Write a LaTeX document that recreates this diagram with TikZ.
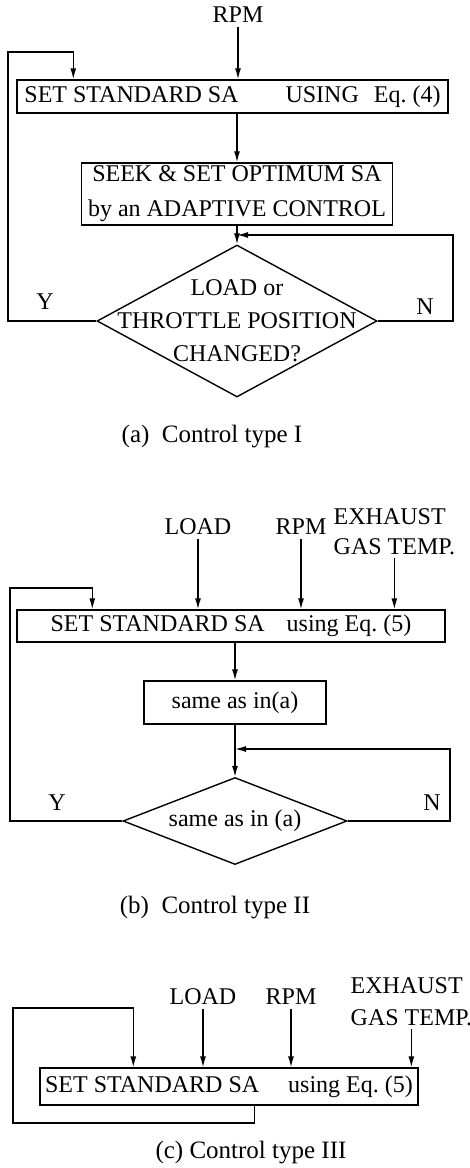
\documentclass[tikz,border=0pt]{standalone}
\usepackage{fontspec}
\setmainfont{Liberation Serif}
\usetikzlibrary{shapes.geometric, arrows.meta, positioning}

\begin{document}
\begin{tikzpicture}[
    x=1pt, y=-1pt,
    line width=1.4pt,
    every node/.style={font=\fontsize{24}{28}\selectfont},
    block/.style={rectangle, draw, line width=1.4pt, inner sep=0pt, align=center},
    decision/.style={diamond, draw, line width=1.4pt, inner sep=0pt},
    signal/.style={inner sep=2pt, align=left},
    caption/.style={font=\fontsize{25}{28}\selectfont},
    arrow/.style={-{Latex[length=11pt, width=6pt]}, line width=1.4pt}
]
    \useasboundingbox (0,0) rectangle (470,1168);

    % (a)
    \node (rpmA) at (238,15) {RPM};
    \node[block, minimum width=431pt, minimum height=33pt] (boxA) at (232.5,96.5) {SET STANDARD SA\hspace{47pt}USING\hspace{15pt}Eq.~(4)};
    \node[block, minimum width=311pt, minimum height=62pt, font=\fontsize{24}{35}\selectfont] (seekA) at (237,194) {SEEK \& SET OPTIMUM SA\\by an ADAPTIVE CONTROL};
    \node[decision, minimum width=280pt, minimum height=152pt,
          label={[align=center, font=\fontsize{24}{33}\selectfont]center:LOAD or\\THROTTLE POSITION\\CHANGED?}] (decA) at (237,321) {};
    \node (yA) at (45,302) {Y};
    \node (nA) at (425,307) {N};
    \node[caption] (capA) at (212,437) {(a)\enspace Control type I};
    \coordinate (yloopA) at (8,52);
    \coordinate (nloopA) at (453,235);

    \draw[arrow] (rpmA) -- (rpmA |- boxA.north);
    \draw[arrow] (boxA.south -| seekA.north) -- (seekA.north);
    \draw[arrow] (seekA) -- (decA);
    \draw[arrow] (decA.east) -| (nloopA) -- (nloopA -| decA.north);
    \draw[arrow] (decA.west) -| (yloopA) -| ([xshift=57pt]boxA.north west);

    % (b)
    \node (loadB) at (198,527) {LOAD};
    \node (rpmB) at (301,527) {RPM};
    \node[signal, anchor=west, font=\fontsize{24}{30}\selectfont] (exhB) at (331,532) {EXHAUST\\GAS TEMP.};
    \node[block, minimum width=428pt, minimum height=32pt] (boxB) at (231,626) {SET STANDARD SA\hspace{22pt}using Eq.~(5)};
    \node[block, minimum width=182pt, minimum height=43pt] (sameB) at (235,702.5) {same as in(a)};
    \node[decision, minimum width=224pt, minimum height=87pt, label={center:same as in (a)}] (decB) at (235,821) {};
    \node (yB) at (57,803) {Y};
    \node (nB) at (432,803) {N};
    \node[caption] (capB) at (215,908) {(b)\enspace Control type II};
    \coordinate (yloopB) at (10,588);
    \coordinate (nloopB) at (450,749);

    \draw[arrow] (loadB) -- (loadB |- boxB.north);
    \draw[arrow] (rpmB) -- (rpmB |- boxB.north);
    \draw[arrow] (exhB) -- (exhB |- boxB.north);
    \draw[arrow] (boxB.south -| sameB.north) -- (sameB.north);
    \draw[arrow] (sameB) -- (decB);
    \draw[arrow] (decB.east) -| (nloopB) -- (nloopB -| decB.north);
    \draw[arrow] (decB.west) -| (yloopB) -| ([xshift=76pt]boxB.north west);

    % (c)
    \node (loadC) at (203,997) {LOAD};
    \node (rpmC) at (291,997) {RPM};
    \node[signal, anchor=west, font=\fontsize{24}{32}\selectfont] (exhC) at (348,1002) {EXHAUST\\GAS TEMP.};
    \node[block, minimum width=378pt, minimum height=37pt] (boxC) at (229,1086.5) {SET STANDARD SA\hspace{29pt}using Eq.~(5)};
    \node[caption] (capC) at (251,1153) {(c) Control type III};
    \coordinate (lowC) at (13,1123);
    \coordinate (highC) at (13,1008);

    \draw[arrow] (loadC) -- (loadC |- boxC.north);
    \draw[arrow] (rpmC) -- (rpmC |- boxC.north);
    \draw[arrow] (exhC) -- (exhC |- boxC.north);
    \draw[arrow] ([xshift=215pt]boxC.south west) |- (lowC) -- (highC) -| ([xshift=94pt]boxC.north west);
\end{tikzpicture}
\end{document}
